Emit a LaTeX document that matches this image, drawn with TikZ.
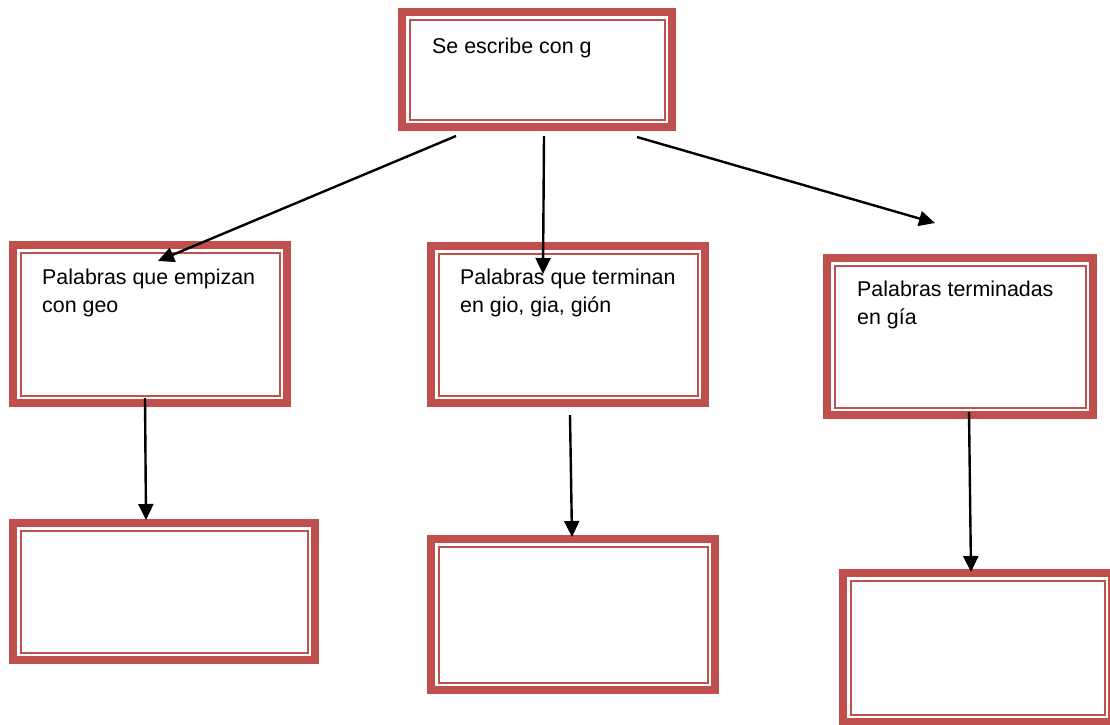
\documentclass[tikz,border=0pt]{standalone}
\usepackage{fontspec}
\setmainfont{Liberation Sans}
\usetikzlibrary{arrows.meta}
\definecolor{boxred}{HTML}{C0504D}
\tikzset{
  gbox/.style={draw=boxred, line width=8pt, inner sep=0pt, fill=white},
  inline/.style={draw=boxred, line width=2pt},
  gtext/.style={anchor=base west, inner sep=0pt, align=left,
    font=\fontsize{21.4}{27.5}\selectfont},
  arr/.style={-{Triangle[length=16pt,width=15pt]}, line width=2.4pt}
}
\begin{document}
\begin{tikzpicture}[x=1pt,y=-1pt]
\useasboundingbox (0,0) rectangle (1110,724);
% boxes
\node[gbox, minimum width=270pt, minimum height=115pt] (top) at (537,69.5) {};
\node[gbox, minimum width=274pt, minimum height=158pt] (geo) at (150,324) {};
\node[gbox, minimum width=274pt, minimum height=157pt] (gion) at (568,324.5) {};
\node[gbox, minimum width=266pt, minimum height=157pt] (gia) at (960,336.5) {};
\node[gbox, minimum width=302pt, minimum height=137pt] (geoB) at (164,591.5) {};
\node[gbox, minimum width=284pt, minimum height=151pt] (gionB) at (573,614.5) {};
\node[gbox, minimum width=269pt, minimum height=149pt] (giaB) at (977.5,647.5) {};
% inner lines
\foreach \n in {top,geo,gion,gia,geoB,gionB,giaB}
  \draw[inline] ([shift={(11.5pt,-11.5pt)}]\n.north west) rectangle ([shift={(-11.5pt,11.5pt)}]\n.south east);
% texts
\node[gtext] (toptxt) at (432,53) {Se escribe con g};
\node[gtext] (geotxt) at (42,312) {Palabras que empizan\\con geo};
\node[gtext] (giontxt) at (460,312) {Palabras que terminan\\en gio, gia, gión};
\node[gtext] (giatxt) at (857,324) {Palabras terminadas\\en gía};
% arrows
\draw[arr] ([shift={(-81pt,-5pt)}]top.south) -- ([shift={(8pt,-20pt)}]geo.north);
\draw[arr] ([shift={(7pt,-5pt)}]top.south) -- ([shift={(-25pt,-32pt)}]gion.north);
\draw[arr] ([shift={(100pt,-6pt)}]top.south) -- ([shift={(-25pt,31pt)}]gia.north);
\draw[arr] ([shift={(-5pt,9pt)}]geo.south) -- ([shift={(-18pt,-1pt)}]geoB.north);
\draw[arr] ([shift={(2pt,-8pt)}]gion.south) -- ([shift={(-1pt,-2pt)}]gionB.north);
\draw[arr] ([shift={(9pt,7pt)}]gia.south) -- ([shift={(-6.5pt,-3pt)}]giaB.north);
\end{tikzpicture}
\end{document}
